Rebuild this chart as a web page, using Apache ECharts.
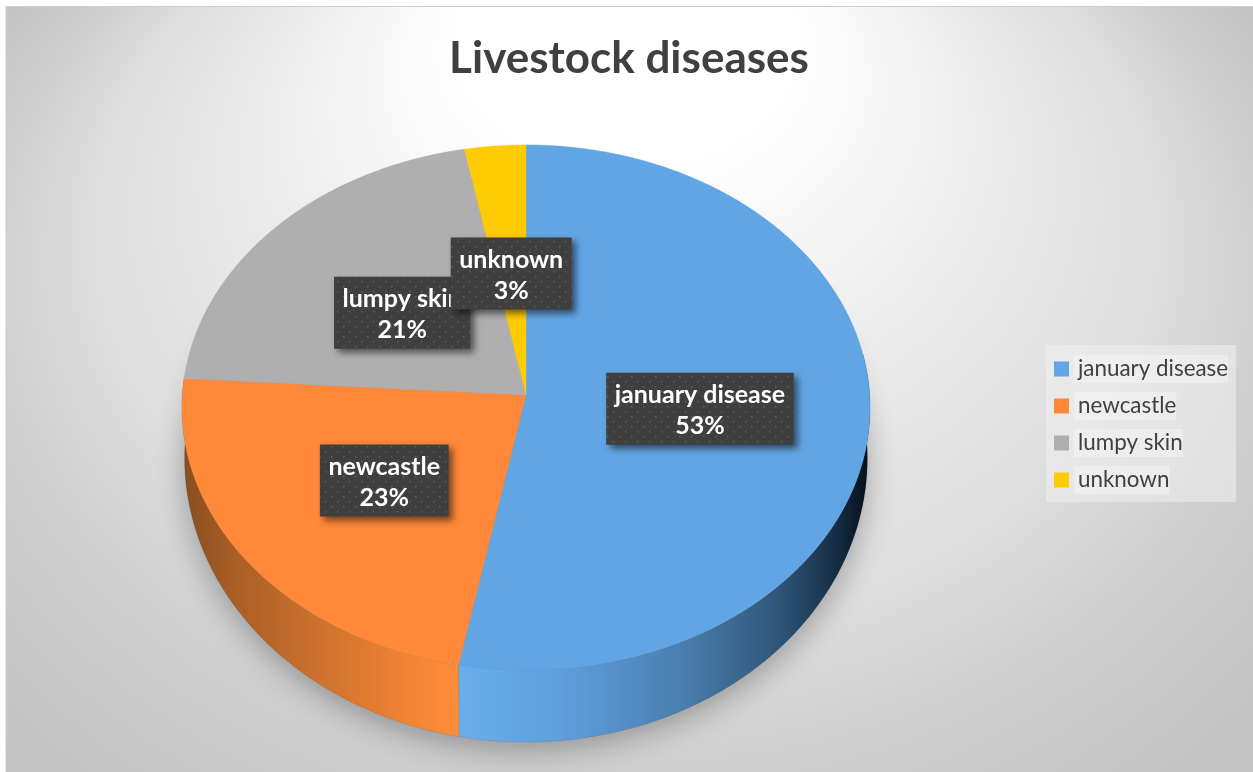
<!DOCTYPE html>
<html><head><meta charset="utf-8">
<style>html,body{margin:0;padding:0;background:#fff}#c{width:1253px;height:772px}</style>
<script src="https://cdn.jsdelivr.net/npm/echarts@6/dist/echarts.min.js"></script>
</head><body><div id="c"></div>
<script>
const titleText = 'Livestock diseases';
const categories = ['january disease', 'newcastle', 'lumpy skin', 'unknown'];
const shares = [53, 23, 21, 3];
const topColors = ['#62a5e4', '#ff8839', '#afafaf', '#ffcb05'];
const FONT = 'Lato, "Open Sans", sans-serif';

// pie projection (a flat disc seen in perspective), top face and lower rim
const topDisc = {cx: 526, cy: 395, rx: 343.6, ry: 262, k: 0.0476};
const rimDisc = {cx: 526, cy: 444.5, rx: 341, ry: 283.4, k: 0.0476};
const labelRadius = 0.5;
const labelNudges = [[2.5, 1.5], [-4, 4], [3, 3], [1, 6]];
const labelPad = 8.5, labelHeight = 72;

const total = shares.reduce((a, b) => a + b, 0);
function project(d, theta, r) {
  const s = Math.sin(theta), u = -Math.cos(theta), w = 1 - d.k * r * u;
  return [d.cx + d.rx * r * s / w, d.cy + d.ry * r * u / w];
}
function arc(d, a, b) {
  const n = Math.max(2, Math.ceil(Math.abs(b - a) / 0.01)), pts = [];
  for (let i = 0; i <= n; i++) pts.push(project(d, a + (b - a) * i / n, 1));
  return pts;
}
function grad(stops) {
  return new echarts.graphic.LinearGradient(stops[0][0], 0, stops[stops.length - 1][0], 0,
    stops.map(p => ({offset: (p[0] - stops[0][0]) / (stops[stops.length - 1][0] - stops[0][0]), color: p[1]})), true);
}
const sideFills = [
  grad([[460, '#68aeec'], [560, '#5f9fdc'], [680, '#4a7fb0'], [780, '#2f5578'], [840, '#142a40'], [868, '#06101a']]),
  grad([[185, '#8a4e20'], [240, '#ac6026'], [330, '#d0742e'], [410, '#f28434'], [460, '#ff8c3a']]),
  null, null
];
// chart-area backdrop: off-centre elliptical gradient
const bg = document.createElement('canvas');
bg.width = 1253; bg.height = 772;
const bc = bg.getContext('2d');
bc.fillStyle = '#fff'; bc.fillRect(0, 0, 1253, 772);
bc.save();
bc.beginPath(); bc.rect(6, 7, 1247, 765); bc.clip();
bc.scale(1, 0.75);
const rg = bc.createRadialGradient(626, 40 / 0.75, 170, 626, 386 / 0.75, 820);
rg.addColorStop(0, '#ffffff'); rg.addColorStop(0.29, '#ececec'); rg.addColorStop(0.54, '#dfdfdf');
rg.addColorStop(0.72, '#cfcfcf'); rg.addColorStop(1, '#c1c1c1');
bc.fillStyle = rg; bc.fillRect(0, 0, 1253, 772 / 0.75);
bc.restore();
// dotted label texture
const tile = document.createElement('canvas');
tile.width = 12; tile.height = 10;
const tc = tile.getContext('2d');
tc.fillStyle = '#3f3f3f'; tc.fillRect(0, 0, 12, 10);
tc.fillStyle = '#5e5e5e';
tc.fillRect(1, 1, 1.5, 1.5); tc.fillRect(7, 6, 1.5, 1.5);
const meas = document.createElement('canvas').getContext('2d');
const labelFont = 'bold 25px ' + FONT;
meas.font = labelFont;

function wedgeSeries(i) {
  return {
    type: 'custom', name: categories[i], coordinateSystem: 'none', z: 3 + i, silent: true,
    data: [[shares[i]]],
    itemStyle: {color: topColors[i]},
    renderItem(params, api) {
      const before = shares.slice(0, i).reduce((a, b) => a + b, 0);
      const a = before / total * 2 * Math.PI;
      const b = a + api.value(0) / total * 2 * Math.PI;
      const children = [];
      if (sideFills[i]) {
        // side wall: only the arc range facing the viewer
        const sa = i === 0 ? Math.max(a, Math.PI * 0.45) : a, sb = b;
        const pts = arc(topDisc, sa, sb).concat(arc(rimDisc, sa, sb).reverse());
        children.push({type: 'polygon', shape: {points: pts},
          style: {fill: sideFills[i], stroke: 'rgba(70,70,70,0.25)', lineWidth: 0.5}});
      }
      const face = [[topDisc.cx, topDisc.cy]].concat(arc(topDisc, a, b));
      children.push({type: 'polygon', shape: {points: face},
        style: {fill: topColors[i], stroke: topColors[i], lineWidth: 0.4}});
      const mid = (a + b) / 2, c = project(topDisc, mid, labelRadius);
      const x = c[0] + labelNudges[i][0], y = c[1] + labelNudges[i][1];
      const pct = Math.round(api.value(0) / total * 100) + '%';
      const w = meas.measureText(categories[i]).width + labelPad * 2;
      children.push({type: 'rect', shape: {x: x - w / 2, y: y - labelHeight / 2, width: w, height: labelHeight},
        style: {fill: {image: tile, repeat: 'repeat'}, shadowColor: 'rgba(0,0,0,0.55)', shadowBlur: 7, shadowOffsetX: 4, shadowOffsetY: 4}});
      children.push({type: 'text', x: x, y: y - 14,
        style: {text: categories[i], fill: '#fff', font: labelFont, align: 'center', verticalAlign: 'middle'}});
      children.push({type: 'text', x: x, y: y + 17,
        style: {text: pct, fill: '#fff', font: labelFont, align: 'center', verticalAlign: 'middle'}});
      return {type: 'group', children};
    }
  };
}
const shadowSeries = {
  type: 'custom', coordinateSystem: 'none', z: 2, silent: true, data: [[0]],
  renderItem() {
    return {type: 'polygon', shape: {points: arc(rimDisc, 0, Math.PI * 2)},
      style: {fill: '#999', shadowColor: 'rgba(0,0,0,0.3)', shadowBlur: 30, shadowOffsetY: 8}};
  }
};

const chart = echarts.init(document.getElementById('c'), null, {renderer: 'canvas'});
chart.setOption({
  animation: false,
  backgroundColor: '#fff',
  graphic: [{
    type: 'rect', z: 0, silent: true,
    shape: {x: 0, y: 0, width: 1253, height: 772},
    style: {fill: {image: bg, repeat: 'no-repeat'}}
  }, {
    type: 'rect', z: 1, silent: true,
    shape: {x: 6, y: 6.5, width: 1260, height: 780},
    style: {fill: 'none', stroke: '#cdcdcd', lineWidth: 1}
  }],
  title: {
    text: titleText, left: 624, top: 32, textAlign: 'center',
    textStyle: {fontFamily: FONT, fontWeight: 'bold', fontSize: 44, color: '#404040'}
  },
  legend: {
    orient: 'vertical', left: 1046, top: 345, padding: [10, 8, 8, 8], itemGap: 9,
    backgroundColor: 'rgba(240,240,240,0.55)',
    icon: 'rect', itemWidth: 15, itemHeight: 15, selectedMode: false,
    textStyle: {fontFamily: FONT, fontSize: 22.4, color: '#404040', lineHeight: 28,
      backgroundColor: 'rgba(245,245,245,0.5)', padding: [0, 0, 0, 4]},
    data: categories.map((name, i) => ({name, itemStyle: {color: topColors[i]}}))
  },
  series: [shadowSeries].concat(categories.map((_, i) => wedgeSeries(i)))
});
</script></body></html>
